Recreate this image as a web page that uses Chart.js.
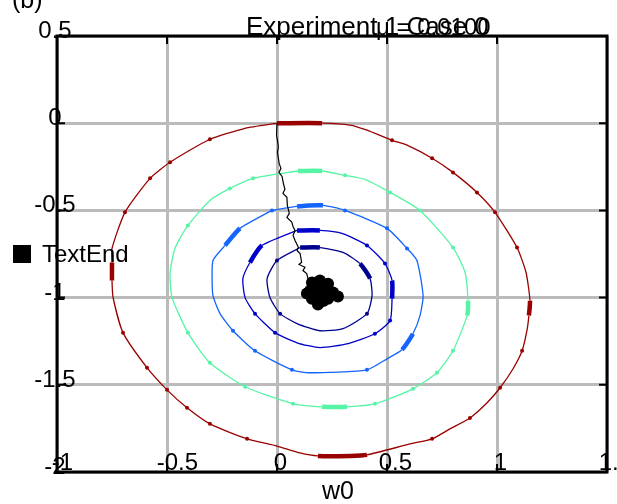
<!DOCTYPE html>
<html>
<head>
<meta charset="utf-8">
<script src="https://cdn.jsdelivr.net/npm/chart.js@4/dist/chart.umd.min.js"></script>
<style>
  html, body { margin: 0; padding: 0; background: #fff; }
  #wrap { width: 617px; height: 504px; }
</style>
</head>
<body>
<div id="wrap"><canvas id="contourChart" width="617" height="504"></canvas></div>
<script>
// axis ticks
var xTicks = [-1, -0.5, 0, 0.5, 1, 1.5];
var yTicks = [-2, -1.5, -1, -0.5, 0, 0.5];

// contour levels, outer to inner, [w0, w1] pairs
var contourRed = [[0,0],[0.205,0],[0.332,-0.011],[0.409,-0.040],[0.523,-0.098],[0.591,-0.126],[0.705,-0.201],[0.800,-0.282],[0.909,-0.397],[0.991,-0.511],[1.091,-0.713],[1.132,-0.856],[1.150,-1.017],[1.145,-1.103],[1.136,-1.190],[1.114,-1.305],[1.073,-1.408],[1.014,-1.517],[0.955,-1.603],[0.877,-1.690],[0.786,-1.753],[0.705,-1.810],[0.605,-1.839],[0.409,-1.902],[0.332,-1.908],[0.186,-1.908],[0.105,-1.891],[0,-1.851],[-0.136,-1.810],[-0.305,-1.724],[-0.409,-1.632],[-0.500,-1.529],[-0.591,-1.402],[-0.700,-1.201],[-0.745,-1.000],[-0.750,-0.902],[-0.750,-0.799],[-0.750,-0.718],[-0.691,-0.511],[-0.577,-0.316],[-0.486,-0.224],[-0.305,-0.092],[-0.145,-0.029],[0,0]];
var contourGreen = [[0.095,-0.274],[0.205,-0.274],[0.309,-0.299],[0.400,-0.322],[0.514,-0.397],[0.650,-0.500],[0.800,-0.713],[0.855,-0.856],[0.868,-1.017],[0.864,-1.103],[0.800,-1.305],[0.727,-1.431],[0.618,-1.523],[0.445,-1.609],[0.318,-1.626],[0.205,-1.626],[0.073,-1.609],[-0.145,-1.511],[-0.305,-1.374],[-0.405,-1.201],[-0.477,-1.000],[-0.486,-0.862],[-0.464,-0.718],[-0.405,-0.586],[-0.305,-0.443],[-0.214,-0.374],[-0.109,-0.316],[0.095,-0.274]];
var contourBlue = [[-0.023,-0.500],[0.091,-0.477],[0.209,-0.471],[0.309,-0.500],[0.500,-0.603],[0.591,-0.718],[0.636,-0.787],[0.664,-0.989],[0.650,-1.103],[0.618,-1.207],[0.568,-1.299],[0.500,-1.351],[0.409,-1.414],[0.150,-1.431],[0.068,-1.414],[-0.100,-1.305],[-0.200,-1.190],[-0.259,-1.092],[-0.291,-0.989],[-0.295,-0.891],[-0.291,-0.787],[-0.236,-0.701],[-0.168,-0.603],[-0.023,-0.500]];
var contourMid = [[0.091,-0.615],[0.195,-0.615],[0.295,-0.632],[0.409,-0.701],[0.491,-0.805],[0.523,-0.902],[0.523,-1.006],[0.514,-1.132],[0.445,-1.207],[0.323,-1.264],[0.195,-1.287],[0.091,-1.259],[-0.009,-1.201],[-0.100,-1.092],[-0.145,-1.000],[-0.155,-0.891],[-0.123,-0.799],[-0.068,-0.701],[0.091,-0.615]];
var contourInner = [[0.105,-0.713],[0.195,-0.713],[0.300,-0.741],[0.377,-0.805],[0.423,-0.891],[0.432,-0.989],[0.409,-1.092],[0.300,-1.178],[0.195,-1.190],[0.091,-1.149],[0.014,-1.092],[-0.032,-1.000],[-0.045,-0.891],[0,-0.787],[0.105,-0.713]];

// gradient descent path
var pathW0 = [0,-0.002,0.002,0.006,0.002,0.010,0.018,0.009,0.023,0.029,0.036,0.027,0.045,0.047,0.056,0.045,0.067,0.073,0.082,0.073,0.082,0.097,0.091,0.105,0.112,0.100,0.127,0.118,0.135,0.141];
var pathW1 = [0,-0.069,-0.098,-0.136,-0.167,-0.232,-0.259,-0.282,-0.305,-0.345,-0.379,-0.402,-0.425,-0.471,-0.517,-0.540,-0.567,-0.592,-0.615,-0.644,-0.672,-0.711,-0.730,-0.747,-0.797,-0.810,-0.826,-0.845,-0.862,-0.891];
// cloud of end points
var endW0 = [0.159,0.195,0.232,0.150,0.186,0.223,0.255,0.159,0.195,0.232,0.186,0.214,0.277,0.136,0.205,0.170,0.240,0.175,0.210];
var endW1 = [-0.914,-0.902,-0.920,-0.960,-0.954,-0.960,-0.971,-1.006,-1.000,-1.006,-1.040,-0.925,-0.994,-0.977,-0.940,-0.930,-0.985,-0.985,-1.020];

// styling: heavy segments and small marks per contour (indices into the arrays above)
var heavyRed = [0, 12, 23, 24, 35];
var heavyGreen = [0, 8, 14];
var heavyBlue = [1, 9, 21];
var heavyMid = [0, 5, 16];
var heavyInner = [0, 3];
var marksRed = [4, 6, 7, 8, 9, 10, 15, 17, 19, 21, 28, 29, 30, 31, 32, 33, 38, 39, 40, 41];
var marksGreen = [2, 4, 5, 6, 10, 11, 12, 13, 16, 17, 18, 19, 23, 25, 26];
var marksBlue = [0, 3, 4, 5, 12, 14, 15, 16];
var marksMid = [3, 4, 7, 8, 12, 13];
var marksInner = [6, 10, 13];

var FONT = '"Liberation Sans", Arial, Helvetica, sans-serif';

function toPts(arr) {
    return arr.map(function (p) { return {x: p[0], y: p[1]}; });
}
function contourSet(label, arr, color, heavy, marks) {
    return {
        label: label,
        data: toPts(arr),
        showLine: true,
        borderColor: color,
        backgroundColor: color,
        borderWidth: 1.3,
        pointRadius: function (c) { return marks.indexOf(c.dataIndex) >= 0 ? 2 : 0; },
        pointBorderWidth: 0,
        tension: 0.2,
        segment: {
            borderWidth: function (c) { return heavy.indexOf(c.p0DataIndex) >= 0 ? 4.5 : 1.3; }
        }
    };
}

var pathPts = pathW0.map(function (v, i) { return {x: v, y: pathW1[i]}; });
var endPts = endW0.map(function (v, i) { return {x: v, y: endW1[i]}; });

var overlay = {
    id: 'overlay',
    afterDraw: function (chart) {
        var ctx = chart.ctx, a = chart.chartArea;
        var xs = chart.scales.x, ys = chart.scales.y;
        ctx.save();
        // frame
        ctx.strokeStyle = '#000';
        ctx.lineWidth = 3;
        ctx.strokeRect(a.left, a.top, a.right - a.left, a.bottom - a.top);
        // inner tick marks
        ctx.lineWidth = 2;
        ctx.beginPath();
        xTicks.forEach(function (v) {
            var px = xs.getPixelForValue(v);
            ctx.moveTo(px, a.top); ctx.lineTo(px, a.top + 8);
            ctx.moveTo(px, a.bottom); ctx.lineTo(px, a.bottom - 8);
        });
        yTicks.forEach(function (v) {
            var py = ys.getPixelForValue(v);
            ctx.moveTo(a.left, py); ctx.lineTo(a.left + 8, py);
            ctx.moveTo(a.right, py); ctx.lineTo(a.right - 8, py);
        });
        ctx.stroke();

        ctx.fillStyle = '#000';
        ctx.textBaseline = 'alphabetic';
        ctx.font = '24px ' + FONT;
        // x tick labels sit just above the bottom frame
        ctx.textAlign = 'left';
        xTicks.forEach(function (v) {
            var s = String(v), w = ctx.measureText(s).width;
            ctx.fillText(s, xs.getPixelForValue(v) - w * 0.25, a.bottom - 2);
        });
        // y tick labels centred on the left frame
        ctx.textAlign = 'center';
        yTicks.forEach(function (v) {
            ctx.fillText(String(v), a.left - 2, ys.getPixelForValue(v) + 2);
        });

        // axis label
        ctx.font = '25px ' + FONT;
        ctx.fillText('w0', 338, 499);

        // titles (two strings laid over each other)
        ctx.textAlign = 'left';
        ctx.font = '26px ' + FONT;
        ctx.fillText('Experiment 1 Case 0', 246, 35);
        ctx.font = '24px ' + FONT;
        ctx.fillText('\u03bc = 0.0100', 376, 35);

        ctx.font = '25px ' + FONT;
        ctx.fillText('(b)', 12, 8);

        // legend
        ctx.fillRect(13, 245, 18, 18);
        ctx.font = '24px ' + FONT;
        ctx.fillText('TextEnd', 42, 262);
        ctx.restore();
    }
};

var contourChart = new Chart(document.getElementById('contourChart').getContext('2d'), {
    type: 'scatter',
    data: {
        datasets: [
            {
                label: 'path',
                data: pathPts,
                showLine: true,
                borderColor: '#000',
                borderWidth: 1.2,
                pointRadius: 0
            },
            {
                label: 'TextEnd',
                data: endPts,
                showLine: false,
                backgroundColor: '#000',
                borderColor: '#000',
                pointRadius: 6,
                pointBorderWidth: 0
            },
            contourSet('level 1', contourInner, '#00008f', heavyInner, marksInner),
            contourSet('level 2', contourMid, '#0000cc', heavyMid, marksMid),
            contourSet('level 3', contourBlue, '#1464ff', heavyBlue, marksBlue),
            contourSet('level 4', contourGreen, '#55f5a5', heavyGreen, marksGreen),
            contourSet('level 5', contourRed, '#990000', heavyRed, marksRed)
        ]
    },
    options: {
        responsive: false,
        animation: false,
        layout: {
            padding: {left: 57, right: 10, top: 36, bottom: 32}
        },
        plugins: {
            legend: {display: false},
            title: {display: false},
            tooltip: {enabled: false}
        },
        scales: {
            x: {
                type: 'linear',
                min: -1,
                max: 1.5,
                afterFit: function (s) { s.height = 0; },
                afterBuildTicks: function (s) { s.ticks = xTicks.map(function (v) { return {value: v}; }); },
                ticks: {display: false},
                border: {display: false},
                grid: {color: '#bbbbbb', lineWidth: 3, drawTicks: false}
            },
            y: {
                type: 'linear',
                min: -2,
                max: 0.5,
                afterFit: function (s) { s.width = 0; },
                afterBuildTicks: function (s) { s.ticks = yTicks.map(function (v) { return {value: v}; }); },
                ticks: {display: false},
                border: {display: false},
                grid: {color: '#bbbbbb', lineWidth: 3, drawTicks: false}
            }
        }
    },
    plugins: [overlay]
});
</script>
</body>
</html>
